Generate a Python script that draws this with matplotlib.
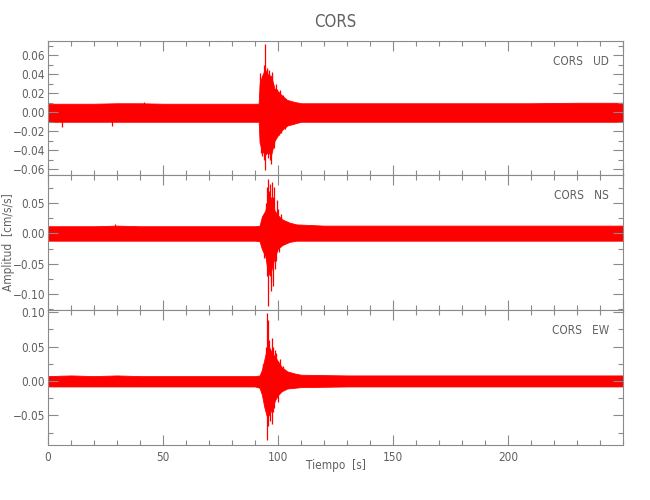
import matplotlib
matplotlib.use("Agg")
import matplotlib.pyplot as plt
from matplotlib.ticker import MultipleLocator

# ---------------- data ----------------
station = "CORS"
components = ["UD", "NS", "EW"]

# bulk envelope of each trace (time in s, upper / lower amplitude in cm/s/s)
ud_t  = [0, 10, 20, 30, 40, 50, 60, 70, 80, 90, 91.6, 92.0, 93.0, 94.3, 95.5, 97.0, 98.5, 100.0, 102.0, 104.0, 107.0, 110, 130, 150, 170, 190, 210, 230, 250]
ud_hi = [0.009, 0.009, 0.009, 0.0095, 0.0095, 0.009, 0.009, 0.009, 0.009, 0.009, 0.009, 0.030, 0.038, 0.045, 0.040, 0.038, 0.025, 0.022, 0.017, 0.013, 0.011, 0.0095, 0.0095, 0.0095, 0.0095, 0.0095, 0.0095, 0.010, 0.010]
ud_lo = [-0.010, -0.010, -0.010, -0.010, -0.010, -0.010, -0.010, -0.010, -0.010, -0.010, -0.010, -0.032, -0.040, -0.045, -0.042, -0.045, -0.030, -0.024, -0.018, -0.014, -0.012, -0.010, -0.010, -0.010, -0.010, -0.010, -0.010, -0.010, -0.010]
# prominent spikes (time, peak value)
ud_spk_t = [6.0, 28.0, 41.6, 92.3, 92.8, 93.0, 93.5, 93.8, 94.0, 94.4, 94.4, 95.0, 95.3, 95.6, 96.1, 96.4, 96.8, 97.3, 97.6, 98.0, 98.4, 99.0, 99.5, 100.3, 100.9, 101.2, 102.0, 103.0]
ud_spk_v = [-0.015, -0.014, 0.011, 0.041, -0.043, -0.046, 0.038, 0.050, -0.050, 0.072, -0.061, 0.047, 0.045, -0.048, 0.044, -0.050, -0.054, 0.042, 0.040, -0.035, -0.038, 0.030, 0.025, -0.024, 0.023, -0.022, 0.018, -0.018]

ns_t  = [0, 10, 20, 30, 40, 50, 60, 70, 80, 90, 92.0, 93.0, 94.5, 95.5, 96.5, 97.5, 98.5, 100.0, 102.0, 105.0, 108.0, 120, 140, 160, 180, 200, 220, 240, 250]
ns_hi = [0.012, 0.012, 0.012, 0.013, 0.012, 0.012, 0.012, 0.012, 0.012, 0.012, 0.013, 0.028, 0.038, 0.058, 0.062, 0.055, 0.038, 0.030, 0.023, 0.018, 0.015, 0.013, 0.013, 0.013, 0.013, 0.013, 0.013, 0.013, 0.013]
ns_lo = [-0.012, -0.012, -0.012, -0.012, -0.012, -0.012, -0.012, -0.012, -0.012, -0.012, -0.013, -0.026, -0.038, -0.062, -0.070, -0.055, -0.040, -0.025, -0.019, -0.014, -0.012, -0.012, -0.012, -0.012, -0.012, -0.012, -0.012, -0.012, -0.012]
ns_spk_t = [29.0, 94.0, 94.6, 95.1, 95.4, 95.8, 95.8, 96.0, 96.5, 96.8, 97.0, 97.3, 97.8, 98.0, 98.3, 98.6, 99.0, 99.4, 99.8, 100.5, 101.5]
ns_spk_v = [0.016, -0.040, 0.050, 0.077, -0.070, 0.090, -0.120, 0.070, 0.082, -0.080, -0.095, 0.085, -0.087, 0.060, 0.077, -0.059, -0.045, 0.055, 0.040, -0.030, 0.032]

ew_t  = [0, 10, 20, 30, 40, 50, 60, 70, 80, 90, 92.0, 93.0, 94.0, 95.0, 96.0, 97.5, 98.7, 100.1, 101.6, 104.0, 107.0, 110.0, 130, 150, 170, 190, 210, 230, 250]
ew_hi = [0.007, 0.008, 0.007, 0.008, 0.007, 0.007, 0.007, 0.007, 0.007, 0.007, 0.008, 0.016, 0.030, 0.045, 0.050, 0.040, 0.035, 0.028, 0.020, 0.014, 0.011, 0.009, 0.008, 0.008, 0.008, 0.008, 0.008, 0.008, 0.008]
ew_lo = [-0.008, -0.008, -0.008, -0.008, -0.008, -0.008, -0.008, -0.008, -0.008, -0.008, -0.010, -0.020, -0.037, -0.050, -0.050, -0.040, -0.028, -0.020, -0.015, -0.011, -0.010, -0.009, -0.008, -0.008, -0.008, -0.008, -0.008, -0.008, -0.008]
ew_spk_t = [93.5, 94.2, 94.6, 95.1, 95.1, 95.8, 95.8, 96.3, 96.6, 97.3, 97.3, 97.8, 98.0, 98.4, 98.7, 99.3, 100.0, 100.8, 102.0]
ew_spk_v = [0.025, -0.040, 0.050, 0.098, -0.086, 0.089, -0.066, 0.060, -0.058, 0.062, -0.062, 0.050, -0.045, -0.040, 0.045, 0.040, -0.030, 0.032, 0.022]

ylims = [(-0.066, 0.075), (-0.127, 0.097), (-0.093, 0.103)]
ymajor = [0.02, 0.05, 0.05]
yminor = [0.01, 0.025, 0.025]
xlim = (0, 250)
xticks = [0, 50, 100, 150, 200]

title = "CORS"
xlabel = "Tiempo  [s]"
ylabel = "Amplitud  [cm/s/s]"

# ---------------- drawing ----------------
plt.rcParams["font.family"] = ["DejaVu Sans"]
plt.rcParams["font.stretch"] = "condensed"
plt.rcParams["font.weight"] = "light"
txt = "#606060"
axc = "#8a8a8a"
red = "#ff0000"

fig = plt.figure(figsize=(6.5, 5), dpi=100)
left, width = 48 / 650, 575 / 650
rects = [(left, 1 - 175 / 500, width, 134 / 500),
         (left, 1 - 310 / 500, width, 135 / 500),
         (left, 1 - 445 / 500, width, 135 / 500)]

traces = [(ud_t, ud_hi, ud_lo, ud_spk_t, ud_spk_v),
          (ns_t, ns_hi, ns_lo, ns_spk_t, ns_spk_v),
          (ew_t, ew_hi, ew_lo, ew_spk_t, ew_spk_v)]

for i, (rect, tr, comp) in enumerate(zip(rects, traces, components)):
    ax = fig.add_axes(rect)
    t, hi, lo, st, sv = tr
    ax.fill_between(t, lo, hi, color=red, lw=0.6, edgecolor=red)
    ax.vlines(st, [0] * len(sv), sv, color=red, lw=0.9)
    ax.set_xlim(*xlim)
    ax.set_ylim(*ylims[i])
    ax.xaxis.set_major_locator(MultipleLocator(50))
    ax.xaxis.set_minor_locator(MultipleLocator(10))
    ax.yaxis.set_major_locator(MultipleLocator(ymajor[i]))
    ax.yaxis.set_minor_locator(MultipleLocator(yminor[i]))
    ax.tick_params(which="both", direction="in", top=True, right=True,
                   color=axc, labelcolor=txt, labelsize=8.5, width=0.8)
    ax.tick_params(which="major", length=7, pad=2)
    ax.tick_params(which="minor", length=3.5)
    ax.yaxis.set_major_formatter(plt.FuncFormatter(lambda v, p: ("%.2f" % v).replace("-", "\u2212")))
    for s in ax.spines.values():
        s.set_color(axc)
        s.set_linewidth(0.8)
    if i < 2:
        ax.tick_params(labelbottom=False)
    else:
        ax.set_xticks(xticks)
        ax.tick_params(axis="x", pad=4)
    ax.text(0.976, 0.85, f"{station}   {comp}", transform=ax.transAxes,
            ha="right", va="center", color=txt, fontsize=8.5)

fig.text(335 / 650, 1 - 22 / 500, title, ha="center", va="center", color=txt, fontsize=12)
fig.text(336 / 650, 1 - 466 / 500, xlabel, ha="center", va="center", color=txt, fontsize=8.5)
fig.text(9 / 650, 1 - 242 / 500, ylabel, ha="center", va="center", rotation=90, color=txt, fontsize=8.5)

fig.savefig("out.png", dpi=100)
